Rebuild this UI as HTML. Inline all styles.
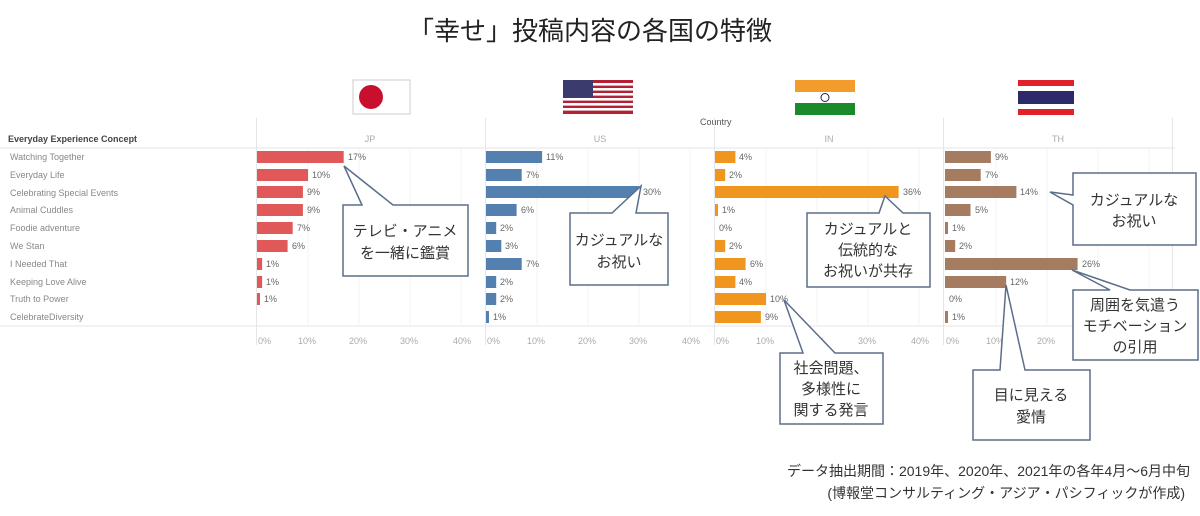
<!DOCTYPE html>
<html><head><meta charset="utf-8"><style>
body{margin:0;background:#fff}
svg{display:block}
.l{font:9px "Liberation Sans",sans-serif;fill:#888}
.v{font:9px "Liberation Sans",sans-serif;fill:#666}
.c{font:15px "Liberation Sans","Noto Sans CJK JP",sans-serif;fill:#333;text-anchor:middle}
</style></head><body>
<svg width="1200" height="516" xmlns="http://www.w3.org/2000/svg">
<text x="590" y="40" style="font:26px 'Liberation Sans','Noto Sans CJK JP',sans-serif;fill:#222" text-anchor="middle">「幸せ」投稿内容の各国の特徴</text>
<g><rect x="353" y="80" width="57" height="34" fill="#fff" stroke="#ccc"/><circle cx="371" cy="97" r="12" fill="#c8102e"/></g>
<g><rect x="563" y="80" width="70" height="34" fill="#b22234"/>
<rect x="563" y="83" width="70" height="2.6" fill="#fff"/><rect x="563" y="88" width="70" height="2.6" fill="#fff"/><rect x="563" y="93" width="70" height="2.6" fill="#fff"/><rect x="563" y="98" width="70" height="2.6" fill="#fff"/><rect x="563" y="103" width="70" height="2.6" fill="#fff"/><rect x="563" y="108" width="70" height="2.6" fill="#fff"/>
<rect x="563" y="80" width="30" height="18" fill="#3c3b6e"/></g>
<g><rect x="795" y="80" width="60" height="12" fill="#f39c2c"/><rect x="795" y="92" width="60" height="11" fill="#fff"/><rect x="795" y="103" width="60" height="12" fill="#1a8a2a"/><circle cx="825" cy="97.5" r="4" fill="none" stroke="#224" stroke-width="1"/></g>
<g><rect x="1018" y="80" width="56" height="35" fill="#e0202a"/><rect x="1018" y="86" width="56" height="23" fill="#fff"/><rect x="1018" y="91" width="56" height="13" fill="#2d2a6a"/></g>
<text x="700" y="125" class="l" style="fill:#555">Country</text>
<text x="8" y="142" class="l" style="fill:#444;font-weight:bold">Everyday Experience Concept</text>
<g stroke="#e6e6e6" stroke-width="1">
<line x1="0" y1="148" x2="1175" y2="148"/><line x1="0" y1="326" x2="1175" y2="326"/>
<line x1="256.5" y1="118" x2="256.5" y2="345"/><line x1="485.5" y1="118" x2="485.5" y2="345"/><line x1="714.5" y1="118" x2="714.5" y2="345"/><line x1="943.5" y1="118" x2="943.5" y2="345"/><line x1="1172.5" y1="118" x2="1172.5" y2="345"/>
</g>
<g stroke="#f3f3f3">
<line x1="308" y1="148" x2="308" y2="326"/><line x1="359" y1="148" x2="359" y2="326"/><line x1="410" y1="148" x2="410" y2="326"/><line x1="461" y1="148" x2="461" y2="326"/>
<line x1="537" y1="148" x2="537" y2="326"/><line x1="588" y1="148" x2="588" y2="326"/><line x1="639" y1="148" x2="639" y2="326"/><line x1="690" y1="148" x2="690" y2="326"/>
<line x1="766" y1="148" x2="766" y2="326"/><line x1="817" y1="148" x2="817" y2="326"/><line x1="868" y1="148" x2="868" y2="326"/><line x1="919" y1="148" x2="919" y2="326"/>
<line x1="996" y1="148" x2="996" y2="326"/><line x1="1047" y1="148" x2="1047" y2="326"/><line x1="1098" y1="148" x2="1098" y2="326"/><line x1="1149" y1="148" x2="1149" y2="326"/>
</g>
<g class="l" text-anchor="middle" style="fill:#aaa">
<text x="370" y="142">JP</text><text x="600" y="142">US</text><text x="829" y="142">IN</text><text x="1058" y="142">TH</text>
</g>
<g class="l">
<text x="10" y="160">Watching Together</text><text x="10" y="178">Everyday Life</text><text x="10" y="196">Celebrating Special Events</text><text x="10" y="213">Animal Cuddles</text><text x="10" y="231">Foodie adventure</text><text x="10" y="249">We Stan</text><text x="10" y="267">I Needed That</text><text x="10" y="285">Keeping Love Alive</text><text x="10" y="302">Truth to Power</text><text x="10" y="320">CelebrateDiversity</text>
</g>
<g class="l" style="fill:#aaa">
<text x="258" y="344">0%</text><text x="298" y="344">10%</text><text x="349" y="344">20%</text><text x="400" y="344">30%</text><text x="453" y="344">40%</text>
<text x="487" y="344">0%</text><text x="527" y="344">10%</text><text x="578" y="344">20%</text><text x="629" y="344">30%</text><text x="682" y="344">40%</text>
<text x="716" y="344">0%</text><text x="756" y="344">10%</text><text x="807" y="344">20%</text><text x="858" y="344">30%</text><text x="911" y="344">40%</text>
<text x="946" y="344">0%</text><text x="986" y="344">10%</text><text x="1037" y="344">20%</text>
</g>
<!-- JP -->
<g fill="#e05858">
<rect x="257" y="151" width="86.7" height="12"/><rect x="257" y="169" width="51" height="12"/><rect x="257" y="186" width="45.9" height="12"/><rect x="257" y="204" width="45.9" height="12"/><rect x="257" y="222" width="35.7" height="12"/><rect x="257" y="240" width="30.6" height="12"/><rect x="257" y="258" width="5.1" height="12"/><rect x="257" y="276" width="5.1" height="12"/><rect x="257" y="293" width="3" height="12"/>
</g>
<g class="v"><text x="348" y="160">17%</text><text x="312" y="178">10%</text><text x="307" y="195">9%</text><text x="307" y="213">9%</text><text x="297" y="231">7%</text><text x="292" y="249">6%</text><text x="266" y="267">1%</text><text x="266" y="285">1%</text><text x="264" y="302">1%</text></g>
<!-- US -->
<g fill="#5480b0">
<rect x="486" y="151" width="56.1" height="12"/><rect x="486" y="169" width="35.7" height="12"/><rect x="486" y="186" width="153" height="12"/><rect x="486" y="204" width="30.6" height="12"/><rect x="486" y="222" width="10.2" height="12"/><rect x="486" y="240" width="15.3" height="12"/><rect x="486" y="258" width="35.7" height="12"/><rect x="486" y="276" width="10.2" height="12"/><rect x="486" y="293" width="10.2" height="12"/><rect x="486" y="311" width="3" height="12"/>
</g>
<g class="v"><text x="546" y="160">11%</text><text x="526" y="178">7%</text><text x="643" y="195">30%</text><text x="521" y="213">6%</text><text x="500" y="231">2%</text><text x="505" y="249">3%</text><text x="526" y="267">7%</text><text x="500" y="285">2%</text><text x="500" y="302">2%</text><text x="493" y="320">1%</text></g>
<!-- IN -->
<g fill="#f0951e">
<rect x="715" y="151" width="20.4" height="12"/><rect x="715" y="169" width="10.2" height="12"/><rect x="715" y="186" width="183.6" height="12"/><rect x="715" y="204" width="3" height="12"/><rect x="715" y="240" width="10.2" height="12"/><rect x="715" y="258" width="30.6" height="12"/><rect x="715" y="276" width="20.4" height="12"/><rect x="715" y="293" width="51" height="12"/><rect x="715" y="311" width="45.9" height="12"/>
</g>
<g class="v"><text x="739" y="160">4%</text><text x="729" y="178">2%</text><text x="903" y="195">36%</text><text x="722" y="213">1%</text><text x="719" y="231">0%</text><text x="729" y="249">2%</text><text x="750" y="267">6%</text><text x="739" y="285">4%</text><text x="770" y="302">10%</text><text x="765" y="320">9%</text></g>
<!-- TH -->
<g fill="#a67c60">
<rect x="945" y="151" width="45.9" height="12"/><rect x="945" y="169" width="35.7" height="12"/><rect x="945" y="186" width="71.4" height="12"/><rect x="945" y="204" width="25.5" height="12"/><rect x="945" y="222" width="3" height="12"/><rect x="945" y="240" width="10.2" height="12"/><rect x="945" y="258" width="132.6" height="12"/><rect x="945" y="276" width="61.2" height="12"/><rect x="945" y="311" width="3" height="12"/>
</g>
<g class="v"><text x="995" y="160">9%</text><text x="985" y="178">7%</text><text x="1020" y="195">14%</text><text x="975" y="213">5%</text><text x="952" y="231">1%</text><text x="959" y="249">2%</text><text x="1082" y="267">26%</text><text x="1010" y="285">12%</text><text x="949" y="302">0%</text><text x="952" y="320">1%</text></g>
<!-- callouts -->
<g fill="#fff" stroke="#5a6e8a" stroke-width="1.5">
<path d="M343,205 H362 L344,166 L393,205 H468 V276 H343 Z"/>
<path d="M570,213 H612 L641,186 L636,213 H668 V285 H570 Z"/>
<path d="M807,213 H879 L885,196 L903,213 H930 V287 H807 Z"/>
<path d="M1073,173 H1196 V245 H1073 V205 L1050,192 L1073,195 Z"/>
<path d="M1073,290 H1110 L1072,270 L1130,290 H1198 V360 H1073 Z"/>
<path d="M780,353 H803 L784,300 L835,353 H883 V424 H780 Z"/>
<path d="M973,370 H1000 L1006,285 L1025,370 H1090 V440 H973 Z"/>
</g>
<g class="c">
<text x="405" y="236">テレビ・アニメ</text><text x="405" y="258">を一緒に鑑賞</text>
<text x="619" y="245">カジュアルな</text><text x="619" y="267">お祝い</text>
<text x="868" y="234">カジュアルと</text><text x="868" y="255">伝統的な</text><text x="868" y="276">お祝いが共存</text>
<text x="1134" y="205">カジュアルな</text><text x="1134" y="226">お祝い</text>
<text x="1135" y="310">周囲を気遣う</text><text x="1135" y="331">モチベーション</text><text x="1135" y="352">の引用</text>
<text x="831" y="373">社会問題、</text><text x="831" y="394">多様性に</text><text x="831" y="415">関する発言</text>
<text x="1031" y="400">目に見える</text><text x="1031" y="422">愛情</text>
</g>
<g style="font:14px 'Liberation Sans','Noto Sans CJK JP',sans-serif;fill:#333" text-anchor="end">
<text x="1190" y="476">データ抽出期間：2019年、2020年、2021年の各年4月～6月中旬</text>
<text x="1185" y="498">(博報堂コンサルティング・アジア・パシフィックが作成)</text>
</g>
</svg>
</body></html>
